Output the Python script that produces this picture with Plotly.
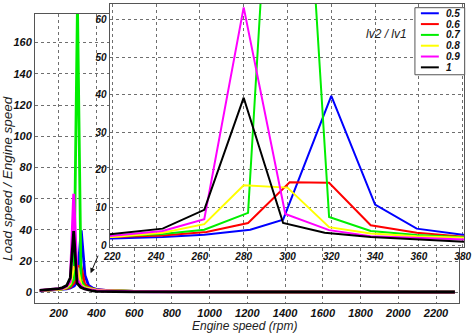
import plotly.graph_objects as go

# ---------------- data ----------------
ratio_labels = ["0.5", "0.6", "0.7", "0.8", "0.9", "1"]
colors = ["#0000ff", "#ff0000", "#00ee00", "#ffff00", "#ff00ff", "#000000"]

rpm_head = [100, 140, 180, 200]
rpm_tail = [400, 450, 500, 600, 700, 800, 1000, 1400, 1800, 2300]

rpm_05 = [220, 243, 262, 283, 298, 320, 340, 359, 380]
val_05 = [1.0, 1.2, 1.5, 1.6, 1.8, 2.2, 2.8, 4.1, 6.8, 39.7, 10.8, 4.4, 2.8,
          2.0, 1.3, 1.0, 0.7, 0.55, 0.45, 0.35, 0.3, 0.25, 0.2]

rpm_06 = [220, 243, 263, 282, 301, 319, 338, 359, 381]
val_06 = [1.1, 1.3, 1.6, 1.9, 2.2, 2.6, 3.5, 5.9, 16.7, 16.6, 5.3, 3.3, 2.2,
          1.6, 1.2, 0.9, 0.65, 0.5, 0.4, 0.3, 0.25, 0.2, 0.2]

rpm_07 = [220, 243, 262, 282, 300, 319, 338, 359, 381]
val_07 = [1.1, 1.4, 1.7, 2.0, 2.3, 3.0, 4.1, 8.6, 185.0, 7.5, 3.8, 2.7, 2.1,
          1.5, 1.1, 0.85, 0.6, 0.5, 0.4, 0.3, 0.25, 0.2, 0.2]

rpm_08 = [220, 243, 262, 280, 300, 319, 338, 359, 381]
val_08 = [1.1, 1.3, 1.6, 1.9, 2.2, 3.3, 5.6, 15.9, 15.3, 4.8, 3.1, 2.4, 2.0,
          1.5, 1.1, 0.85, 0.6, 0.5, 0.4, 0.3, 0.25, 0.2, 0.2]

rpm_09 = [220, 243, 262, 280, 299, 319, 338, 359, 381]
val_09 = [1.2, 1.5, 1.8, 2.1, 2.5, 3.8, 6.9, 63.2, 8.3, 4.0, 2.4, 1.9, 1.5,
          1.1, 0.9, 0.7, 0.5, 0.4, 0.35, 0.3, 0.25, 0.2, 0.2]

rpm_10 = [219, 243, 262, 280, 298, 317, 338, 359, 381]
val_10 = [1.3, 1.6, 2.0, 2.4, 2.9, 4.4, 9.4, 39.2, 5.9, 3.3, 2.2, 1.5, 0.9,
          0.7, 0.55, 0.45, 0.35, 0.3, 0.3, 0.25, 0.25, 0.25, 0.25]

series_rpm = [rpm_05, rpm_06, rpm_07, rpm_08, rpm_09, rpm_10]
series_val = [val_05, val_06, val_07, val_08, val_09, val_10]

main_xticks = list(range(200, 2201, 200))
main_yticks = list(range(0, 161, 20))
inset_xticks = list(range(220, 381, 20))
inset_yticks = list(range(0, 61, 10))

# ---------------- layout helpers (pixel -> paper) ----------------
W, H = 474, 334
ML, MR, MT, MB = 35, 8, 3, 31
PW, PH = W - ML - MR, H - MT - MB


def pxx(p):
    return (p - ML) / PW


def pxy(p):
    return (H - MB - p) / PH


FONT = "Liberation Sans, Arial, sans-serif"
tickfont_main = dict(family=FONT, size=11, color="#111", weight="bold", style="italic")
tickfont_inset = dict(family=FONT, size=10, color="#111", weight="bold", style="italic")

fig = go.Figure()

# main plot
for xs, ys, c, name in zip(series_rpm, series_val, colors, ratio_labels):
    fig.add_trace(go.Scatter(
        x=rpm_head + xs + rpm_tail, y=ys, mode="lines", name=name,
        line=dict(color=c, width=2.8), xaxis="x", yaxis="y", showlegend=False))

# inset
for xs, ys, c, name in zip(series_rpm, series_val, colors, ratio_labels):
    fig.add_trace(go.Scatter(
        x=rpm_head + xs + rpm_tail, y=ys, mode="lines", name=name,
        line=dict(color=c, width=2), xaxis="x2", yaxis="y2", showlegend=False))

grid = dict(showgrid=True, gridcolor="#6f6f6f", griddash="dot", gridwidth=1,
            showline=True, linecolor="#555", linewidth=1, mirror=True,
            ticks="", zeroline=False)

inset_xr = [218.8, 380.6]
inset_yr = [-0.45, 64.1]

fig.update_layout(
    width=W, height=H,
    margin=dict(l=ML, r=MR, t=MT, b=MB),
    paper_bgcolor="white", plot_bgcolor="white",
    showlegend=False,
    font=dict(family=FONT, color="#111"),
    xaxis=dict(domain=[0, pxx(461)], range=[75, 2322], tickvals=main_xticks,
               tickfont=tickfont_main, anchor="y", **grid),
    yaxis=dict(domain=[pxy(302.7), pxy(12.7)], range=[-6.6, 178.5], tickvals=main_yticks,
               tickfont=tickfont_main, anchor="x", **grid),
    xaxis2=dict(domain=[pxx(110), 1.0], range=inset_xr, tickvals=inset_xticks,
                tickfont=tickfont_inset, anchor="y2", **grid),
    yaxis2=dict(domain=[pxy(246.7), 1.0], range=inset_yr, tickvals=inset_yticks,
                tickfont=tickfont_inset, anchor="x2", **grid),
)

# white background of the inset (covers the main plot underneath)
fig.add_shape(type="rect", xref="x2", yref="y2",
              x0=inset_xr[0], x1=inset_xr[1], y0=inset_yr[0], y1=inset_yr[1],
              fillcolor="white", line=dict(width=0), layer="below")

annotations = []
# axis titles
annotations.append(dict(text="Engine speed (rpm)", xref="paper", yref="paper",
                        x=pxx(245), y=pxy(326), showarrow=False,
                        xanchor="center", yanchor="middle",
                        font=dict(family=FONT, size=12, style="italic", color="#222")))
annotations.append(dict(text="Load speed / Engine speed", xref="paper", yref="paper",
                        x=pxx(7.5), y=pxy(178), showarrow=False, textangle=-90,
                        xanchor="center", yanchor="middle",
                        font=dict(family=FONT, size=13.5, style="italic", color="#222")))
# inset caption
annotations.append(dict(text="lv2 / lv1", xref="paper", yref="paper",
                        x=pxx(388), y=pxy(33), showarrow=False,
                        xanchor="center", yanchor="middle",
                        font=dict(family=FONT, size=12, style="italic", color="#222")))
# arrow pointing at the zoomed region
annotations.append(dict(text="", xref="x", yref="y", x=370, y=12.3, ax=8, ay=-19,
                        showarrow=True, arrowhead=2, arrowsize=1, arrowwidth=1,
                        arrowcolor="#111"))

# manual legend
fig.add_shape(type="rect", xref="paper", yref="paper",
              x0=pxx(416.7), x1=pxx(466.7), y0=pxy(74), y1=pxy(6.7),
              fillcolor="white", line=dict(color="#555", width=1), layer="above")
for i, (c, name) in enumerate(zip(colors, ratio_labels)):
    yc = 12.3 + i * 10.85
    fig.add_shape(type="line", xref="paper", yref="paper",
                  x0=pxx(422.7), x1=pxx(440.7), y0=pxy(yc), y1=pxy(yc),
                  line=dict(color=c, width=2), layer="above")
    annotations.append(dict(text=name, xref="paper", yref="paper",
                            x=pxx(446), y=pxy(yc), showarrow=False,
                            xanchor="left", yanchor="middle",
                            font=dict(family=FONT, size=10, weight="bold",
                                      style="italic", color="#111")))

fig.update_layout(annotations=annotations)

fig.write_html("out.html")
